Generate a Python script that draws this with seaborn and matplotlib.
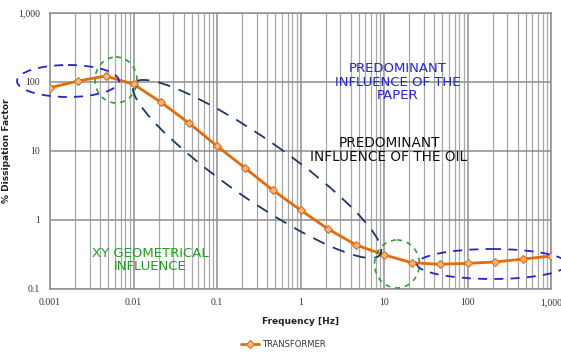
import numpy as np
import pandas as pd
import matplotlib
matplotlib.use("Agg")
import matplotlib.pyplot as plt
import seaborn as sns
from matplotlib.patches import Ellipse
from matplotlib.transforms import Affine2D
from matplotlib.ticker import LogLocator, FixedLocator, FixedFormatter, NullFormatter

# Dissipation factor sweep of the transformer insulation (1/3-decade steps)
frequency_hz = [0.001, 0.00215, 0.00464, 0.01, 0.0215, 0.0464, 0.1, 0.215, 0.464,
                1, 2.15, 4.64, 10, 21.5, 46.4, 100, 215, 464, 1000]
dissipation_pct = [82, 102, 121, 92, 50, 25, 11.7, 5.65, 2.69,
                   1.38, 0.73, 0.43, 0.31, 0.238, 0.226, 0.233, 0.244, 0.269, 0.298]
series_name = "TRANSFORMER"

x_ticks = [0.001, 0.01, 0.1, 1, 10, 100, 1000]
x_tick_labels = ["0.001", "0.01", "0.1", "1", "10", "100", "1,000"]
y_ticks = [0.1, 1, 10, 100, 1000]
y_tick_labels = ["0.1", "1", "10", "100", "1,000"]

df = pd.DataFrame({"Frequency [Hz]": frequency_hz,
                   "% Dissipation Factor": dissipation_pct,
                   "series": series_name})

sns.set_style("white")
W, H = 561, 352
fig = plt.figure(figsize=(W / 100, H / 100), dpi=100)
ax = fig.add_axes([50 / W, 1 - 288.7 / H, 501 / W, 276 / H])

orange = "#E36C09"
sns.lineplot(data=df, x="Frequency [Hz]", y="% Dissipation Factor", ax=ax,
             color=orange, linewidth=2, marker="D", markersize=4,
             markerfacecolor="#F5B98A", markeredgecolor=orange,
             markeredgewidth=0.8, label=series_name, zorder=5)

ax.set_xscale("log")
ax.set_yscale("log")
ax.set_xlim(0.001, 1000)
ax.set_ylim(0.1, 1000)

ax.xaxis.set_major_locator(FixedLocator(x_ticks))
ax.xaxis.set_major_formatter(FixedFormatter(x_tick_labels))
ax.yaxis.set_major_locator(FixedLocator(y_ticks))
ax.yaxis.set_major_formatter(FixedFormatter(y_tick_labels))
ax.xaxis.set_minor_locator(LogLocator(base=10, subs=range(2, 10), numticks=20))
ax.xaxis.set_minor_formatter(NullFormatter())
ax.yaxis.set_minor_locator(FixedLocator([]))

ax.grid(which="major", color="#8e8e8e", linewidth=1.1)
ax.grid(which="minor", axis="x", color="#a8a8a8", linewidth=0.9)
ax.tick_params(which="major", direction="out", length=4, width=1, color="#8e8e8e",
               labelsize=7, pad=3, labelcolor="#333333")
ax.tick_params(which="minor", length=0)
for lbl in ax.get_xticklabels() + ax.get_yticklabels():
    lbl.set_family("Liberation Serif")
for side in ["left", "bottom", "top", "right"]:
    ax.spines[side].set_color("#8e8e8e")
    ax.spines[side].set_linewidth(1.1)

ax.set_xlabel("Frequency [Hz]", fontsize=6.5, fontweight="bold", color="#222222", labelpad=7)
ax.set_ylabel("% Dissipation Factor", fontsize=6.5, fontweight="bold", color="#222222", labelpad=5)

ax.legend(loc="center", bbox_to_anchor=(0.505, 0.022), bbox_transform=fig.transFigure,
          frameon=False, fontsize=6, handlelength=2.2, handletextpad=0.3,
          labelcolor="#333333")

# pixel coordinates (origin top-left) for the annotation overlay
px = Affine2D().scale(1, -1).translate(0, H)

def ring(cx, cy, w, h, color, angle=0, dash=(0, (5, 4)), lw=1.3):
    e = Ellipse((cx, cy), w, h, angle=angle, fill=False, edgecolor=color,
                linewidth=lw, linestyle=dash, transform=px, clip_on=False, zorder=6)
    fig.add_artist(e)

blue = "#2424D6"
navy = "#1F3864"
green = "#2E9E3A"

ring(68, 81, 102, 32, blue)
ring(116, 80, 42, 46, green, dash=(0, (3, 3)), lw=1.2)
ring(257, 169, 300, 60, navy, angle=34.8, dash=(0, (7, 5)))
ring(397, 264, 45, 48, green, dash=(0, (3, 3)), lw=1.2)
ring(492, 264, 150, 30, blue)

fig.text(398, 82, "PREDOMINANT\nINFLUENCE OF THE\nPAPER", transform=px,
         ha="center", va="center", color=blue, fontsize=9.5, linespacing=1.05)
fig.text(389, 150, "PREDOMINANT\nINFLUENCE OF THE OIL", transform=px,
         ha="center", va="center", color="#111111", fontsize=9.8, linespacing=1.05)
fig.text(150, 260, "XY GEOMETRICAL\nINFLUENCE", transform=px,
         ha="center", va="center", color="#1FA01F", fontsize=9.5, linespacing=1.05)

fig.savefig("out.png", dpi=100)
